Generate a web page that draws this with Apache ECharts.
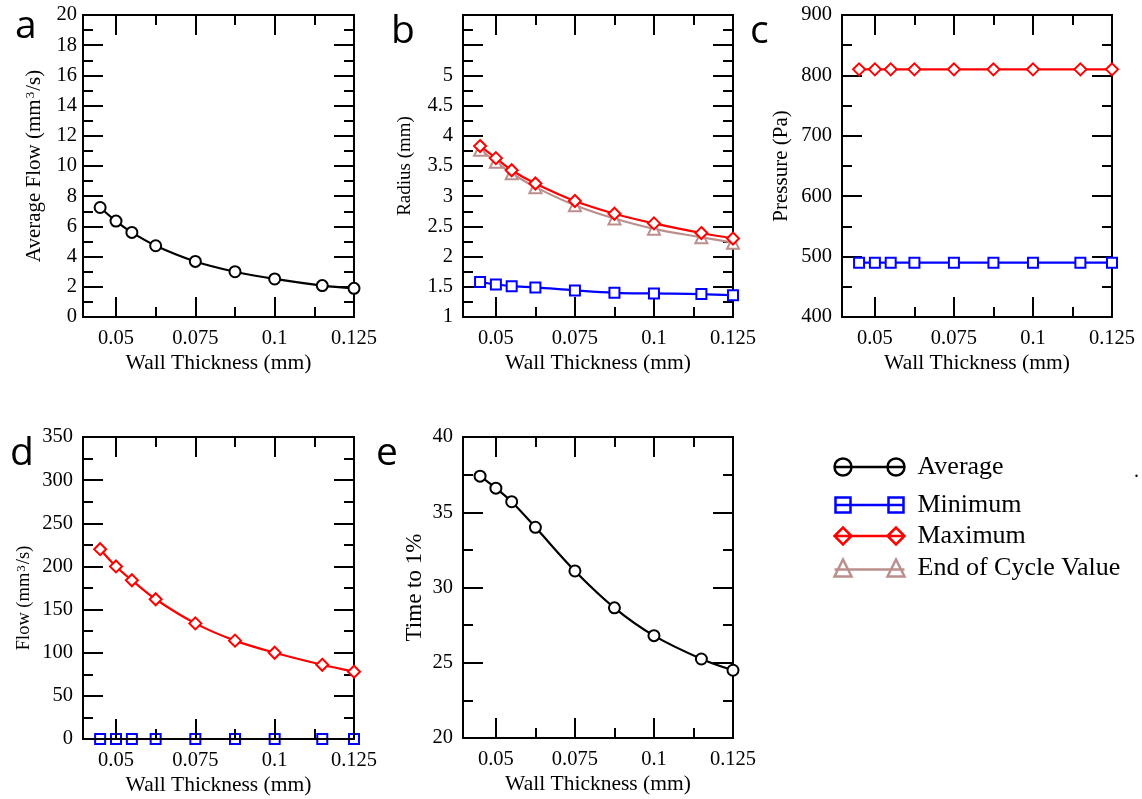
<!DOCTYPE html>
<html>
<head>
<meta charset="utf-8">
<script src="https://cdn.jsdelivr.net/npm/echarts@6/dist/echarts.min.js"></script>
<style>
html,body{margin:0;padding:0;background:#fff;}
#main{width:1142px;height:799px;}
</style>
</head>
<body>
<div id="main"></div>
<script>
// ---- data ----
const wallThickness = [0.045, 0.05, 0.055, 0.0625, 0.075, 0.0875, 0.1, 0.115, 0.125];
const avgFlow      = [7.25, 6.35, 5.6, 4.72, 3.68, 3.0, 2.52, 2.08, 1.9];
const radiusMin    = [1.58, 1.54, 1.51, 1.49, 1.44, 1.40, 1.39, 1.38, 1.36];
const radiusMax    = [3.83, 3.63, 3.43, 3.21, 2.92, 2.71, 2.55, 2.39, 2.30];
const radiusEnd    = [3.77, 3.57, 3.38, 3.15, 2.85, 2.63, 2.46, 2.32, 2.23];
const pressureMin  = [490, 490, 490, 490, 490, 490, 490, 490, 490];
const pressureMax  = [810, 810, 810, 810, 810, 810, 810, 810, 810];
const flowMin      = [0, 0, 0, 0, 0, 0, 0, 0, 0];
const flowMax      = [220, 200, 184, 162, 134, 114, 100, 86, 78];
const timeTo1      = [37.4, 36.6, 35.7, 34.0, 31.1, 28.65, 26.8, 25.25, 24.5];

const xMajorTicks = [0.05, 0.075, 0.1, 0.125];
const xMinorTicks = [0.0625, 0.0875, 0.1125];
const seriesNames = ['Average', 'Minimum', 'Maximum', 'End of Cycle Value'];
const panelLetters = ['a', 'b', 'c', 'd', 'e'];

// ---- styling ----
const X_MIN = 0.0396, X_MAX = 0.125;
const SERIF = 'Liberation Serif';
const C = {avg: '#000000', min: '#0000ff', max: '#ff0000', end: '#bc8f8f'};
const black = {color: '#000', width: 2};

const pair = (ys) => wallThickness.map((x, i) => [x, ys[i]]);

const grids = [], xAxes = [], yAxes = [], series = [], titles = [];

function panel(g, box, yCfg, xzTop) {
  grids.push({left: box[0], top: box[1], width: box[2], height: box[3], outerBoundsMode: 'none', containLabel: false});
  const base = {
    gridIndex: g, type: 'value', min: X_MIN, max: X_MAX,
    splitLine: {show: false}, z: xzTop ? 5 : 0,
    axisLine: {show: true, onZero: false, lineStyle: black}
  };
  xAxes.push(Object.assign({}, base, {
    position: 'bottom',
    axisTick: {show: true, inside: true, length: 20, customValues: xMajorTicks, lineStyle: black},
    axisLabel: {show: true, customValues: xMajorTicks, formatter: v => String(v), color: '#000',
                fontFamily: SERIF, fontSize: 20.5, margin: 11},
    name: 'Wall Thickness (mm)', nameLocation: 'middle', nameGap: 35,
    nameTextStyle: {color: '#000', fontFamily: SERIF, fontSize: 21.5}
  }));
  xAxes.push(Object.assign({}, base, {
    position: 'top',
    axisTick: {show: true, inside: true, length: 20, customValues: xMajorTicks, lineStyle: black},
    axisLabel: {show: false}
  }));
  ['bottom', 'top'].forEach(p => xAxes.push(Object.assign({}, base, {
    position: p,
    axisTick: {show: true, inside: true, length: 10, customValues: xMinorTicks, lineStyle: black},
    axisLabel: {show: false}
  })));
  const ybase = {
    gridIndex: g, type: 'value', min: yCfg.min, max: yCfg.max, interval: yCfg.interval,
    splitLine: {show: false}, minorSplitLine: {show: false},
    axisLine: {show: true, onZero: false, lineStyle: black},
    axisTick: {show: true, inside: true, length: 20, lineStyle: black},
    minorTick: {show: true, splitNumber: 2, length: 10, lineStyle: black}
  };
  yAxes.push(Object.assign({}, ybase, {
    position: 'left',
    axisLabel: {show: true, color: '#000', fontFamily: SERIF, fontSize: 20.5, margin: yCfg.margin,
                formatter: v => (yCfg.labelMax !== undefined && v > yCfg.labelMax + 1e-9) ? '' : String(v)},
    name: yCfg.name, nameLocation: 'middle', nameGap: yCfg.nameGap,
    nameTextStyle: {color: '#000', fontFamily: SERIF, fontSize: yCfg.nameSize, padding: yCfg.namePad || 0,
      rich: {sup: {fontFamily: SERIF, fontSize: 13, color: '#000', verticalAlign: 'top', padding: [0, 1, 0, 1]}}}
  }));
  yAxes.push(Object.assign({}, ybase, {position: 'right', axisLabel: {show: false}}));
}

panel(0, [83, 15, 271, 302], {min: 0, max: 20, interval: 2, margin: 6, name: 'Average Flow (mm{sup|3}/s)', nameGap: 38, nameSize: 21});
panel(1, [463, 15, 270, 302], {min: 1, max: 6, interval: 0.5, margin: 10, labelMax: 5, name: 'Radius (mm)', nameGap: 48, nameSize: 19});
panel(2, [842, 15, 270, 302], {min: 400, max: 900, interval: 100, margin: 10, name: 'Pressure (Pa)', nameGap: 50, nameSize: 21});
panel(3, [83, 437, 271, 302], {min: 0, max: 350, interval: 50, margin: 10, name: 'Flow (mm{sup|3}/s)', nameGap: 49, nameSize: 18.5, namePad: [0, 20, 0, 0]}, true);
panel(4, [463, 437, 270, 301], {min: 20, max: 40, interval: 5, margin: 10, name: 'Time to 1%', nameGap: 37, nameSize: 23});

function line(g, name, ys, color, symbol, size) {
  series.push({
    type: 'line', name, xAxisIndex: g * 4, yAxisIndex: g * 2,
    data: pair(ys), smooth: 0.35, clip: false,
    symbol, symbolSize: size, showSymbol: true,
    lineStyle: {color, width: 2.2}, itemStyle: {color, borderColor: color, borderWidth: 2.2},
    emphasis: {disabled: true}, z: 2
  });
}
line(0, 'Average', avgFlow, C.avg, 'emptyCircle', 11);
line(1, 'End of Cycle Value', radiusEnd, C.end, 'emptyTriangle', 12);
line(1, 'Maximum', radiusMax, C.max, 'emptyDiamond', 12);
line(1, 'Minimum', radiusMin, C.min, 'emptyRect', 10);
line(2, 'Maximum', pressureMax, C.max, 'emptyDiamond', 12);
line(2, 'Minimum', pressureMin, C.min, 'emptyRect', 10);
line(3, 'Maximum', flowMax, C.max, 'emptyDiamond', 12);
line(3, 'Minimum', flowMin, C.min, 'emptyRect', 10);
line(4, 'Average', timeTo1, C.avg, 'emptyCircle', 11);

// panel letters
const letterPos = [[15, 7], [391, 12], [750, 12], [10, 434], [376, 434]];
panelLetters.forEach((t, i) => titles.push({
  text: t, left: letterPos[i][0], top: letterPos[i][1], padding: 0,
  textStyle: {fontFamily: 'Open Sans', fontSize: 39, fontWeight: 500, color: '#000'}
}));

// legend icons (marker - line - marker)
const icons = {
  'Average': 'path://M0,8.5 A8.5,8.5 0 1 1 17,8.5 A8.5,8.5 0 1 1 0,8.5 Z M53,8.5 A8.5,8.5 0 1 1 70,8.5 A8.5,8.5 0 1 1 53,8.5 Z M0,8.5 L70,8.5',
  'Minimum': 'path://M1,1 L16,1 L16,16 L1,16 Z M54,1 L69,1 L69,16 L54,16 Z M0,8.5 L70,8.5 M0,0 L0,0 M70,17 L70,17',
  'Maximum': 'path://M0,8.5 L8.5,0 L17,8.5 L8.5,17 Z M53,8.5 L61.5,0 L70,8.5 L61.5,17 Z M0,8.5 L70,8.5',
  'End of Cycle Value': 'path://M0,17 L8.5,0 L17,17 Z M53,17 L61.5,0 L70,17 Z M0,10 L70,10'
};
const legColors = {'Average': C.avg, 'Minimum': C.min, 'Maximum': C.max, 'End of Cycle Value': C.end};
const legTops = [454, 492, 523, 555];
const legends = seriesNames.map((n, i) => ({
  left: 832, top: legTops[i], orient: 'vertical', padding: 0,
  itemWidth: 70, itemHeight: 17, selectedMode: false,
  textStyle: {fontFamily: SERIF, fontSize: 26, color: '#000', padding: [0, 0, 0, 8]},
  data: [{name: n, icon: icons[n], itemStyle: {color: 'none', borderColor: legColors[n], borderWidth: 2.5}}]
}));

const chart = echarts.init(document.getElementById('main'), null, {renderer: 'canvas'});
chart.setOption({
  animation: false,
  backgroundColor: '#fff',
  title: titles,
  legend: legends,
  grid: grids,
  xAxis: xAxes,
  yAxis: yAxes,
  series,
  graphic: [{type: 'text', left: 1134, top: 462, style: {text: '.', font: '20px Liberation Serif', fill: '#000'}}]
});
</script>
</body>
</html>
